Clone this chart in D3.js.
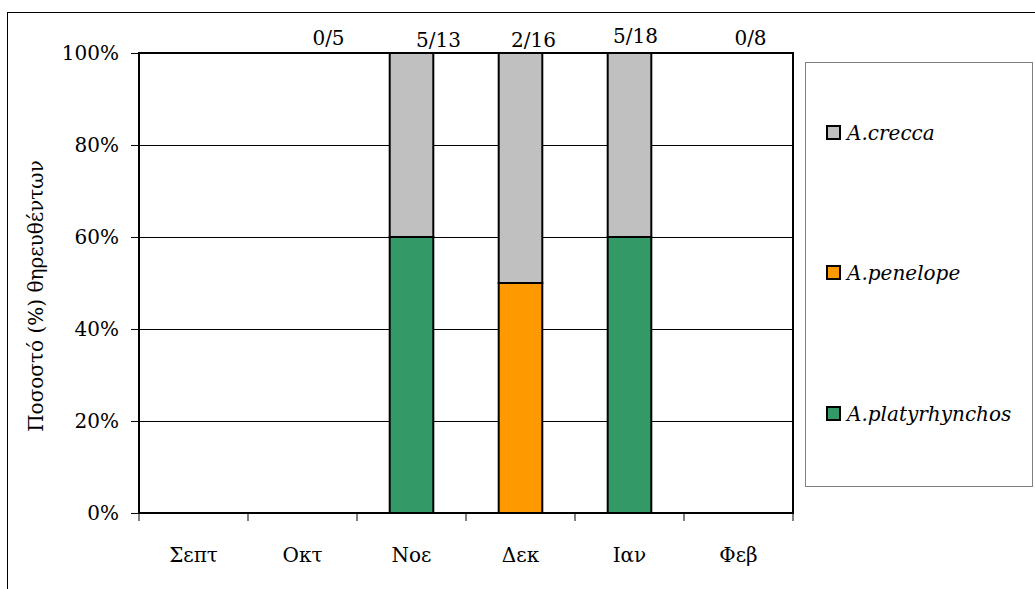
<!DOCTYPE html>
<html>
<head>
<meta charset="utf-8">
<script src="https://cdn.jsdelivr.net/npm/d3@7"></script>
<style>
  html, body { margin: 0; padding: 0; background: #fff; overflow: hidden; }
  svg { display: block; }
</style>
</head>
<body>
<svg id="chart" width="1035" height="589"></svg>
<script>
// ---- data ----
const months = ["Σεπτ", "Οκτ", "Νοε", "Δεκ", "Ιαν", "Φεβ"];
const sampleLabels = ["", "0/5", "5/13", "2/16", "5/18", "0/8"];
const seriesNames = ["A.platyrhynchos", "A.penelope", "A.crecca"];
const platyrhynchos = [0, 0, 60, 0, 60, 0];
const penelope = [0, 0, 0, 50, 0, 0];
const crecca = [0, 0, 40, 50, 40, 0];
const seriesColors = ["#339966", "#FF9900", "#C0C0C0"];
const yTicks = [0, 20, 40, 60, 80, 100];
const yTitle = "Ποσοστό (%) θηρευθέντων";

// ---- layout ----
const FONT = "'DejaVu Serif', serif";
const svg = d3.select("#chart");
const plot = { left: 139, top: 53, right: 793, bottom: 513 };
const fontSize = 20;

// outer frame (extends beyond right/bottom edges)
svg.append("rect").attr("x", 7.5).attr("y", 12.5).attr("width", 1100).attr("height", 700)
  .attr("fill", "#fff").attr("stroke", "#000").attr("stroke-width", 1);

const x = d3.scaleBand().domain(months).range([plot.left, plot.right]).padding(0);
const y = d3.scaleLinear().domain([0, 100]).range([plot.bottom, plot.top]);

// gridlines
svg.append("g").selectAll("line").data(yTicks.filter(d => d > 0 && d < 100)).join("line")
  .attr("x1", plot.left).attr("x2", plot.right)
  .attr("y1", d => Math.round(y(d)) + 0.5).attr("y2", d => Math.round(y(d)) + 0.5)
  .attr("stroke", "#000").attr("stroke-width", 1);

// stacked bars
const table = months.map((m, i) => ({ month: m, "A.platyrhynchos": platyrhynchos[i], "A.penelope": penelope[i], "A.crecca": crecca[i] }));
const stack = d3.stack().keys(seriesNames)(table);
const barW = x.bandwidth() * 0.4;
const gBars = svg.append("g");
stack.forEach((layer, si) => {
  gBars.selectAll(null).data(layer.filter(d => d[1] - d[0] > 0)).join("rect")
    .attr("x", d => x(d.data.month) + (x.bandwidth() - barW) / 2)
    .attr("y", d => y(d[1]))
    .attr("width", barW)
    .attr("height", d => y(d[0]) - y(d[1]))
    .attr("fill", seriesColors[si])
    .attr("stroke", "#000").attr("stroke-width", 2);
});

// plot frame
svg.append("rect").attr("x", plot.left).attr("y", plot.top)
  .attr("width", plot.right - plot.left).attr("height", plot.bottom - plot.top)
  .attr("fill", "none").attr("stroke", "#000").attr("stroke-width", 2);

// y axis
const yAxis = d3.axisLeft(y).tickValues(yTicks).tickFormat(d => d + "%").tickSize(8).tickPadding(12);
const gy = svg.append("g").attr("transform", `translate(${plot.left},0)`).call(yAxis)
  .attr("font-family", FONT).attr("font-size", fontSize);
gy.select(".domain").remove();
gy.selectAll(".tick line").attr("stroke", "#000").attr("stroke-width", 1);
gy.selectAll(".tick text").attr("fill", "#000");

// x axis ticks at band boundaries
const boundaries = months.map(m => x(m)).concat([plot.right]);
svg.append("g").selectAll("line").data(boundaries).join("line")
  .attr("x1", d => d).attr("x2", d => d)
  .attr("y1", plot.bottom).attr("y2", plot.bottom + 8)
  .attr("stroke", "#000").attr("stroke-width", 1);

svg.append("g").selectAll("text").data(months).join("text")
  .attr("x", d => x(d) + x.bandwidth() / 2)
  .attr("y", 562)
  .attr("text-anchor", "middle")
  .attr("font-family", FONT)
  .attr("font-size", fontSize)
  .text(d => d);

// sample-size labels above plot
const labelDx = [0, 26, 27, 13, 6, 12];
const labelY = [45, 45, 47, 47, 43, 45];
svg.append("g").selectAll("text").data(sampleLabels).join("text")
  .attr("x", (d, i) => x(months[i]) + x.bandwidth() / 2 + labelDx[i])
  .attr("y", (d, i) => labelY[i])
  .attr("text-anchor", "middle")
  .attr("font-family", FONT)
  .attr("font-size", fontSize)
  .text(d => d);

// y title
svg.append("text")
  .attr("transform", "translate(43,296) rotate(-90)")
  .attr("text-anchor", "middle")
  .attr("font-family", FONT)
  .attr("font-size", fontSize)
  .text(yTitle);

// legend
const leg = { x: 805, y: 62, w: 227, h: 424 };
svg.append("rect").attr("x", leg.x + 0.5).attr("y", leg.y + 0.5).attr("width", leg.w).attr("height", leg.h)
  .attr("fill", "#fff").attr("stroke", "#808080").attr("stroke-width", 1);
const legendOrder = [2, 1, 0];
const legendY = [133, 273, 414];
legendOrder.forEach((si, k) => {
  const cy = legendY[k];
  svg.append("rect").attr("x", 827).attr("y", cy - 7).attr("width", 13).attr("height", 13)
    .attr("fill", seriesColors[si]).attr("stroke", "#000").attr("stroke-width", 2);
  svg.append("text").attr("x", 847).attr("y", cy + 7)
    .attr("font-family", FONT)
    .attr("font-size", fontSize).attr("font-style", "italic")
    .text(seriesNames[si]);
});
</script>
</body>
</html>
